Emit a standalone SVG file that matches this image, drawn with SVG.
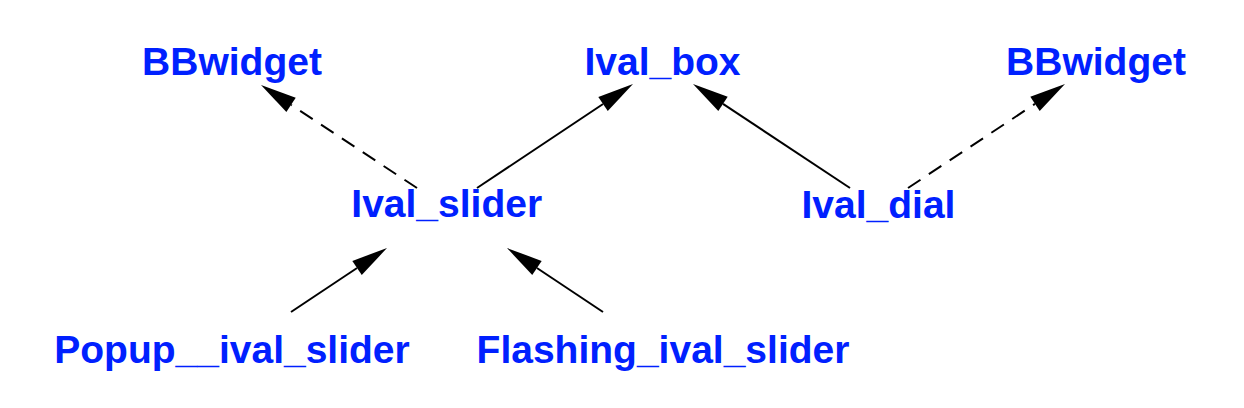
<svg xmlns="http://www.w3.org/2000/svg" width="1244" height="408" viewBox="0 0 1244 408">
<style>
.lbl{font-family:"Liberation Sans",Arial,Helvetica,sans-serif;font-weight:bold;font-size:39px;fill:#0020ff;text-anchor:middle}
.edge{stroke:#000;stroke-width:2;fill:none}
.dash{stroke-dasharray:15,10}
</style>
<defs>
<marker id="ah" markerUnits="userSpaceOnUse" markerWidth="40" markerHeight="20" refX="0" refY="9" orient="auto" overflow="visible">
<path d="M0,0.5 L36,9 L0,17.5 z" fill="#000"/>
</marker>
</defs>
<rect width="1244" height="408" fill="#fff"/>
<g id="connectors">
<line class="edge dash" x1="417" y1="188" x2="291.05" y2="104.84" marker-end="url(#ah)"/>
<line class="edge" x1="477" y1="188" x2="603.05" y2="103.97" marker-end="url(#ah)"/>
<line class="edge" x1="850" y1="188" x2="723" y2="103.9" marker-end="url(#ah)"/>
<line class="edge dash" x1="908" y1="188" x2="1035" y2="103.9" marker-end="url(#ah)"/>
<line class="edge" x1="291" y1="312" x2="357.05" y2="267.97" marker-end="url(#ah)"/>
<line class="edge" x1="603" y1="312" x2="536.95" y2="267.97" marker-end="url(#ah)"/>
</g>
<g id="BBwidget_left"><text class="lbl" x="232" y="75">BBwidget</text></g>
<g id="Ival_box"><text class="lbl" x="662.5" y="75">Ival_box</text></g>
<g id="BBwidget_right"><text class="lbl" x="1096" y="75">BBwidget</text></g>
<g id="Ival_slider"><text class="lbl" x="446.7" y="217">Ival_slider</text></g>
<g id="Ival_dial"><text class="lbl" x="878.5" y="218">Ival_dial</text></g>
<g id="Popup__ival_slider"><text class="lbl" x="232" y="363">Popup__ival_slider</text></g>
<g id="Flashing_ival_slider"><text class="lbl" x="663" y="363">Flashing_ival_slider</text></g>
</svg>
